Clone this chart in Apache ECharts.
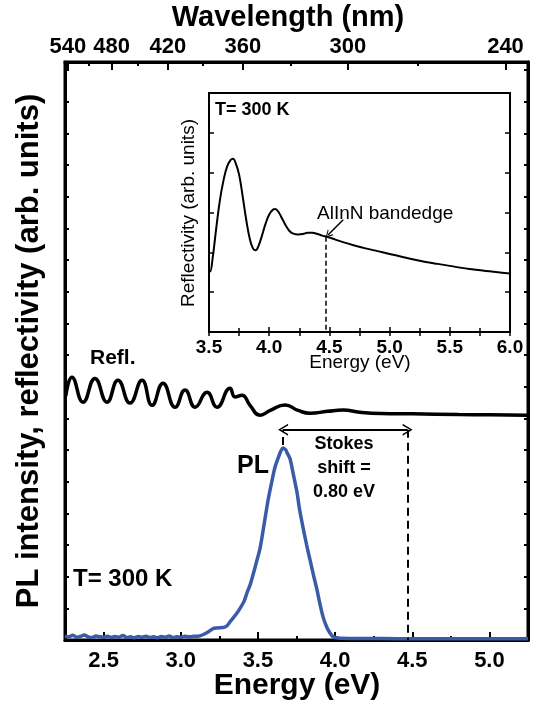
<!DOCTYPE html>
<html><head><meta charset="utf-8">
<script src="https://cdn.jsdelivr.net/npm/echarts@6/dist/echarts.min.js"></script>
<style>html,body{margin:0;padding:0;background:#fff}#c{width:538px;height:708px}</style>
</head><body><div id="c"></div>
<script>
// ---------- data ----------
const energyMajorTicks = [2.5, 3.0, 3.5, 4.0, 4.5, 5.0];
const wavelengthMajor = [540, 480, 420, 360, 300, 240];
const wavelengthMinor = [510, 450, 390, 330, 270];

// PL spectrum [energy eV, intensity arb.]
const plData = [
  [2.25,0.12],[2.275,0.10],[2.30,0.15],[2.325,0.09],[2.35,0.11],[2.375,0.16],[2.40,0.10],[2.425,0.08],
  [2.45,0.13],[2.475,0.10],[2.50,0.09],[2.525,0.12],[2.55,0.08],[2.575,0.11],[2.60,0.09],[2.625,0.14],
  [2.65,0.08],[2.675,0.10],[2.70,0.07],[2.725,0.11],[2.75,0.09],[2.775,0.12],[2.80,0.08],[2.825,0.10],
  [2.85,0.07],[2.875,0.11],[2.90,0.09],[2.925,0.13],[2.95,0.08],[2.975,0.10],[3.00,0.09],[3.025,0.12],
  [3.05,0.10],[3.075,0.11],[3.10,0.12],[3.125,0.13],[3.15,0.18],[3.18,0.26],[3.21,0.36],[3.235,0.38],
  [3.26,0.39],[3.28,0.40],[3.30,0.45],[3.32,0.58],[3.34,0.70],[3.36,0.82],[3.384,1.00],[3.41,1.22],
  [3.43,1.50],[3.45,1.75],[3.468,2.05],[3.49,2.45],[3.514,2.90],[3.54,3.65],[3.566,4.42],[3.59,5.00],
  [3.611,5.46],[3.635,5.80],[3.65,5.98],[3.663,6.06],[3.68,6.00],[3.69,5.90],[3.708,5.72],[3.73,5.22],
  [3.754,4.64],[3.77,4.12],[3.792,3.56],[3.815,3.02],[3.838,2.52],[3.86,2.05],[3.883,1.58],[3.90,1.18],
  [3.922,0.73],[3.945,0.42],[3.967,0.22],[3.987,0.10],[4.02,0.06],[4.10,0.05],[4.20,0.05],[4.40,0.04],
  [4.60,0.04],[4.80,0.04],[5.00,0.04],[5.25,0.04]
];

// Reflectivity (main panel, offset) [energy eV, value]
const reflData = [
  [2.255,7.70],[2.295,8.30],[2.367,7.51],[2.444,8.26],[2.522,7.51],[2.593,8.20],[2.671,7.48],
  [2.749,8.20],[2.814,7.41],[2.885,8.11],[2.963,7.35],[3.028,7.89],[3.093,7.35],[3.170,7.82],
  [3.235,7.35],[3.319,7.95],[3.352,7.67],[3.397,7.73],[3.45,7.40],[3.514,7.10],[3.58,7.25],
  [3.676,7.42],[3.76,7.25],[3.838,7.16],[3.95,7.22],[4.052,7.26],[4.16,7.19],[4.30,7.15],
  [4.50,7.14],[4.80,7.12],[5.00,7.11],[5.245,7.10]
];

// Inset reflectivity [energy eV, value]
const insetData = [
  [3.50,1.55],[3.51,1.52],[3.53,1.85],[3.56,2.60],[3.59,3.30],[3.62,3.80],[3.65,4.15],[3.68,4.32],
  [3.70,4.35],[3.72,4.25],[3.75,3.95],[3.78,3.40],[3.81,2.80],[3.84,2.32],[3.865,2.10],[3.888,2.05],
  [3.91,2.15],[3.94,2.42],[3.97,2.72],[4.00,2.95],[4.03,3.07],[4.05,3.09],[4.08,3.00],[4.11,2.83],
  [4.14,2.66],[4.17,2.53],[4.20,2.47],[4.24,2.45],[4.28,2.46],[4.32,2.49],[4.36,2.49],[4.40,2.46],
  [4.44,2.42],[4.48,2.39],[4.55,2.32],[4.62,2.25],[4.70,2.18],[4.80,2.10],[4.90,2.03],[5.00,1.96],
  [5.10,1.89],[5.20,1.82],[5.30,1.76],[5.40,1.71],[5.50,1.66],[5.60,1.61],[5.70,1.57],[5.80,1.53],
  [5.90,1.50],[6.00,1.47]
];

const plPeakEnergy = 3.663;
const plPeakValue = 6.06;
const bandedgeEnergy = 4.47;
const stokesArrowLevel = 6.64;
const insetBandedgeValue = 2.39;
const insetArrowFrom = [4.615, 2.82];
const insetArrowTo = [4.49, 2.44];

// ---------- chart ----------
// conversion constant as placed on the original top axis
const HC = 1225;
const toE = wl => HC / wl;
const FONT = "'Liberation Sans', Arial, Helvetica, sans-serif";
const CHEVRON = 'path://M0,12 L5,0 L10,12 L8.6,12 L5,3.2 L1.4,12 Z';
const chart = echarts.init(document.getElementById('c'), null, {renderer: 'canvas'});

const tickStyle = w => ({color: '#000', width: w});

const option = {
  animation: false,
  backgroundColor: '#fff',
  grid: [
    {left: 65, right: 10, top: 62, bottom: 68, show: true, borderColor: '#000', borderWidth: 3, backgroundColor: 'transparent'},
    {left: 209, right: 28, top: 93, bottom: 376, show: true, borderColor: '#000', borderWidth: 2, backgroundColor: '#fff'}
  ],
  xAxis: [
    {gridIndex: 0, type: 'value', min: 2.25, max: 5.25, interval: 0.25, position: 'bottom',
     axisLine: {show: false}, axisTick: {inside: true, length: 4, lineStyle: tickStyle(2)},
     axisLabel: {show: false}, splitLine: {show: false}},
    {gridIndex: 0, type: 'value', min: 2.25, max: 5.25, position: 'bottom',
     axisLine: {show: true, lineStyle: {color: '#000', width: 3}},
     axisTick: {inside: true, length: 8, customValues: energyMajorTicks, lineStyle: tickStyle(2)},
     axisLabel: {customValues: energyMajorTicks, formatter: v => v.toFixed(1), margin: 10,
       color: '#000', fontFamily: FONT, fontWeight: 'bold', fontSize: 22},
     splitLine: {show: false}},
    {gridIndex: 0, type: 'value', min: 2.25, max: 5.25, position: 'top',
     axisLine: {show: true, lineStyle: {color: '#000', width: 3}},
     axisTick: {inside: true, length: 8, customValues: wavelengthMajor.map(toE), lineStyle: tickStyle(2)},
     axisLabel: {customValues: wavelengthMajor.map(toE), formatter: v => String(Math.round(HC / v)), margin: 4,
       color: '#000', fontFamily: FONT, fontWeight: 'bold', fontSize: 22},
     splitLine: {show: false}},
    {gridIndex: 0, type: 'value', min: 2.25, max: 5.25, position: 'top',
     axisLine: {show: false},
     axisTick: {inside: true, length: 4, customValues: wavelengthMinor.map(toE), lineStyle: tickStyle(2)},
     axisLabel: {show: false}, splitLine: {show: false}},
    {gridIndex: 1, type: 'value', min: 3.5, max: 6.0, interval: 0.5, position: 'bottom',
     axisLine: {show: true, lineStyle: {color: '#000', width: 2}},
     axisTick: {inside: true, length: 5, lineStyle: tickStyle(1.5)},
     minorTick: {show: true, splitNumber: 2, length: 4, lineStyle: {color: '#000', width: 1.5}},
     axisLabel: {formatter: v => v.toFixed(1), margin: 6, color: '#000', fontFamily: FONT, fontWeight: 'bold', fontSize: 19},
     splitLine: {show: false}},
    {gridIndex: 1, type: 'value', min: 3.5, max: 6.0, interval: 0.25, position: 'top',
     axisLine: {show: false},
     axisTick: {inside: true, length: 4, lineStyle: tickStyle(1.5)},
     axisLabel: {show: false}, splitLine: {show: false}}
  ],
  yAxis: [
    {gridIndex: 0, type: 'value', min: 0, max: 18.25, interval: 1, position: 'left',
     axisLine: {show: true, lineStyle: {color: '#000', width: 3}},
     axisTick: {inside: true, length: 4, lineStyle: tickStyle(2)}, axisLabel: {show: false}, splitLine: {show: false}},
    {gridIndex: 0, type: 'value', min: 0, max: 18.25, interval: 1, position: 'right',
     axisLine: {show: true, lineStyle: {color: '#000', width: 3}},
     axisTick: {inside: true, length: 4, lineStyle: tickStyle(2)}, axisLabel: {show: false}, splitLine: {show: false}},
    {gridIndex: 1, type: 'value', min: 0, max: 6, interval: 1, position: 'left',
     axisLine: {show: true, lineStyle: {color: '#000', width: 2}},
     axisTick: {inside: true, length: 5, lineStyle: tickStyle(1.5)}, axisLabel: {show: false}, splitLine: {show: false}},
    {gridIndex: 1, type: 'value', min: 0, max: 6, interval: 1, position: 'right',
     axisLine: {show: true, lineStyle: {color: '#000', width: 2}},
     axisTick: {inside: true, length: 5, lineStyle: tickStyle(1.5)}, axisLabel: {show: false}, splitLine: {show: false}}
  ],
  series: [
    {name: 'Refl.', type: 'line', xAxisIndex: 0, yAxisIndex: 0, data: reflData, smooth: 0.5,
     showSymbol: false, lineStyle: {color: '#000', width: 3.5}, silent: true},
    {name: 'PL', type: 'line', xAxisIndex: 0, yAxisIndex: 0, data: plData, smooth: 0.3,
     showSymbol: false, lineStyle: {color: '#3a5ba8', width: 3.5}, silent: true, z: 3,
     markLine: {silent: true, symbol: 'none', label: {show: false},
       lineStyle: {color: '#000', width: 2, type: [8, 5]},
       data: [
         [{coord: [bandedgeEnergy, stokesArrowLevel]}, {coord: [bandedgeEnergy, 0]}],
         [{coord: [plPeakEnergy, plPeakValue + 0.1]}, {coord: [plPeakEnergy, stokesArrowLevel]}],
         [{coord: [plPeakEnergy, stokesArrowLevel], symbol: CHEVRON, symbolSize: [12, 10], lineStyle: {type: 'solid', width: 2}},
          {coord: [bandedgeEnergy, stokesArrowLevel], symbol: CHEVRON, symbolSize: [12, 10]}]
       ]}},
    {name: 'Inset', type: 'line', xAxisIndex: 4, yAxisIndex: 2, data: insetData, smooth: 0.4,
     showSymbol: false, lineStyle: {color: '#000', width: 2}, silent: true,
     markLine: {silent: true, symbol: 'none', label: {show: false},
       lineStyle: {color: '#000', width: 1.5, type: [5, 3]},
       data: [
         [{coord: [bandedgeEnergy, insetBandedgeValue]}, {coord: [bandedgeEnergy, 0]}],
         [{coord: insetArrowFrom, symbol: 'none', lineStyle: {type: 'solid', width: 1.5}},
          {coord: insetArrowTo, symbol: CHEVRON, symbolSize: [8, 7]}]
       ]}}
  ],
  graphic: [
    {type: 'text', x: 288, y: 18, style: {text: 'Wavelength (nm)', font: `bold 29px ${FONT}`, fill: '#000', align: 'center', verticalAlign: 'middle'}},
    {type: 'text', x: 297, y: 686, style: {text: 'Energy (eV)', font: `bold 30px ${FONT}`, fill: '#000', align: 'center', verticalAlign: 'middle'}},
    {type: 'text', x: 29, y: 351, rotation: Math.PI / 2, style: {text: 'PL intensity, reflectivity (arb. units)', font: `bold 31px ${FONT}`, fill: '#000', align: 'center', verticalAlign: 'middle'}},
    {type: 'text', x: 90, y: 358, style: {text: 'Refl.', font: `bold 21px ${FONT}`, fill: '#000', align: 'left', verticalAlign: 'middle'}},
    {type: 'text', x: 237, y: 466, style: {text: 'PL', font: `bold 25px ${FONT}`, fill: '#000', align: 'left', verticalAlign: 'middle'}},
    {type: 'text', x: 344, y: 432, style: {text: 'Stokes\nshift =\n0.80 eV', font: `bold 18px ${FONT}`, lineHeight: 24, fill: '#000', align: 'center', verticalAlign: 'top'}},
    {type: 'text', x: 73, y: 579, style: {text: 'T= 300 K', font: `bold 24px ${FONT}`, fill: '#000', align: 'left', verticalAlign: 'middle'}},
    {type: 'text', x: 215, y: 110, z: 20, style: {text: 'T= 300 K', font: `bold 18px ${FONT}`, fill: '#000', align: 'left', verticalAlign: 'middle'}},
    {type: 'text', x: 317, y: 214, z: 20, style: {text: 'AlInN bandedge', font: `19px ${FONT}`, fill: '#000', align: 'left', verticalAlign: 'middle'}},
    {type: 'text', x: 360, y: 363, z: 20, style: {text: 'Energy (eV)', font: `19px ${FONT}`, fill: '#000', align: 'center', verticalAlign: 'middle'}},
    {type: 'text', x: 189, y: 213, z: 20, rotation: Math.PI / 2, style: {text: 'Reflectivity (arb. units)', font: `19px ${FONT}`, fill: '#000', align: 'center', verticalAlign: 'middle'}}
  ]
};
chart.setOption(option);
</script>
</body></html>
